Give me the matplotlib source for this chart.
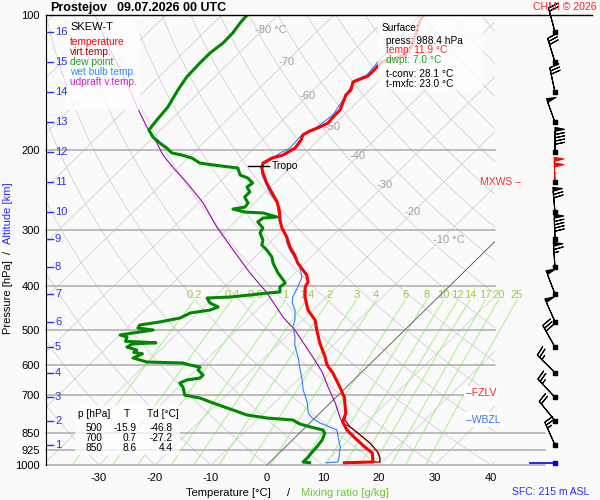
import numpy as np
import matplotlib
matplotlib.use('Agg')
import matplotlib.pyplot as plt
from matplotlib.transforms import Affine2D, blended_transform_factory
from matplotlib.patches import Rectangle

plt.rcParams['font.family'] = ['Liberation Sans', 'DejaVu Sans']
plt.rcParams['axes.unicode_minus'] = False

# sounding, surface upwards (hPa, degC)
temp_p = [988.4, 984.8, 969.8, 940.4, 912.0, 871.0, 836.0, 802.8, 766.6, 706.0,
          671.0, 624.4, 599.4, 575.4, 535.6, 501.2, 476.4, 452.6, 423.4, 402.3,
          392.1, 378.3, 355.8, 341.5, 327.8, 311.4, 297.4, 285.5, 274.1, 260.3,
          248.7, 236.3, 224.4, 218.8, 213.3, 207.9, 204.8, 197.6, 189.6, 184.8,
          181.1, 177.4, 173.8, 166.8, 162.6, 150.6, 146.8, 140.9, 136.6, 133.8,
          127.2, 122.7, 116.6, 108.0, 102.6, 100.0]
temp_t = [13.4, 18.4, 17.8, 16.6, 14.2, 10.8, 7.9, 5.7, 4.6, 1.4,
          -1.2, -5.0, -7.5, -9.3, -12.8, -15.7, -17.8, -20.9, -23.8, -25.6,
          -26.0, -27.5, -31.3, -33.3, -35.6, -38.0, -40.5, -42.3, -43.8, -46.1,
          -48.6, -51.4, -53.9, -55.0, -55.7, -55.0, -53.6, -52.7, -53.1, -53.7,
          -53.2, -52.1, -51.4, -51.6, -51.6, -53.3, -53.3, -54.4, -52.8, -52.8,
          -52.9, -50.0, -50.6, -52.4, -53.7, -53.9]

virt_p = [988.4, 984.8, 964.8, 935.7, 893.9, 849.2, 823.0, 794.3, 766.6, 706.0]
virt_t = [14.7, 19.6, 18.9, 17.4, 14.4, 10.4, 7.9, 5.7, 4.6, 1.5]

dewp_p = [988.4, 984.8, 959.9, 935.7, 912.0, 880.0, 849.2, 836.0, 823.0, 810.7,
          794.3, 786.2, 774.2, 754.7, 728.2, 709.7, 699.5, 671.0, 657.5, 647.4,
          640.8, 631.0, 615.1, 605.9, 599.4, 593.4, 590.4, 578.4, 566.0, 562.0,
          555.3, 546.8, 538.4, 535.0, 531.0, 519.5, 514.2, 509.0, 501.2, 496.1,
          488.5, 481.0, 471.3, 459.4, 452.6, 445.5, 436.5, 425.5, 423.4, 419.0,
          414.8, 412.7, 402.3, 394.1, 388.1, 374.4, 355.8, 345.0, 332.8, 324.4,
          316.2, 305.1, 297.4, 288.4, 282.6, 281.1, 275.4, 274.1, 269.9, 267.2,
          261.7, 253.8, 247.3, 241.1, 236.3, 230.3, 226.8, 218.8, 217.7, 215.4,
          213.3, 207.9, 204.8, 202.6, 197.6, 192.5, 186.7, 180.1, 171.1, 160.1,
          146.8, 137.3, 127.8, 121.4, 115.4, 109.6, 104.2, 100.0]
dewp_t = [7.2, 5.9, 5.9, 5.7, 5.6, 5.3, 4.5, 3.6, 0.8, -1.6,
          -3.6, -8.6, -12.7, -16.1, -20.9, -24.2, -27.4, -29.2, -30.5, -29.8,
          -27.8, -27.8, -29.6, -29.8, -32.0, -33.6, -40.2, -43.4, -42.5, -44.3,
          -44.2, -46.5, -46.1, -42.1, -47.8, -48.3, -49.9, -48.0, -44.9, -48.0,
          -48.2, -45.2, -42.3, -41.4, -38.4, -37.5, -39.7, -41.1, -37.2, -34.0,
          -31.3, -29.2, -30.1, -29.9, -30.8, -33.0, -35.7, -37.0, -39.2, -41.0,
          -41.7, -43.5, -43.9, -45.9, -45.7, -43.4, -46.6, -50.0, -52.7, -50.9,
          -51.1, -52.8, -52.8, -54.2, -53.9, -55.7, -57.6, -59.3, -60.9, -64.3,
          -67.0, -69.3, -71.6, -73.8, -75.6, -77.8, -80.1, -82.1, -82.5, -82.9,
          -84.2, -85.0, -85.2, -85.2, -84.7, -84.8, -85.3, -85.5]

wetb_p = [988.4, 984.8, 959.9, 912.0, 862.2, 836.0, 823.0, 806.6, 786.2, 766.6,
          724.4, 681.3, 647.4, 605.9, 578.4, 541.2, 519.5, 493.5, 476.4, 452.6,
          436.5, 423.4, 402.3, 382.1, 363.1, 353.9, 332.8, 321.1, 305.1, 289.9,
          275.4, 261.7, 248.7, 226.8, 216.6, 202.6, 197.6, 184.8, 177.4, 166.8,
          154.5, 139.5, 136.0, 127.2, 100.0]
wetb_t = [10.2, 12.1, 11.4, 9.8, 7.4, 6.1, 4.3, 1.8, -0.5, -2.1,
          -4.3, -7.2, -9.2, -12.0, -13.9, -16.9, -18.3, -20.5, -21.4, -23.2,
          -25.0, -26.0, -26.9, -28.0, -30.2, -31.6, -35.1, -36.9, -39.0, -41.8,
          -43.9, -45.9, -49.0, -53.7, -55.5, -54.5, -53.6, -53.9, -52.6, -52.0,
          -52.9, -54.4, -53.2, -53.6, -54.6]

updr_p = [984.8, 964.8, 935.7, 893.9, 849.2, 827.7, 806.6, 786.2, 728.2, 671.0,
          621.3, 575.4, 541.2, 501.2, 469.0, 414.8, 374.4, 332.8, 295.9, 261.7,
          236.3, 217.7, 204.8, 192.5, 177.4, 160.1, 141.6, 119.6, 100.0]
updr_t = [19.6, 18.9, 17.4, 14.4, 10.4, 8.4, 5.9, 4.5, 0.9, -3.3,
          -7.1, -11.5, -15.1, -19.6, -24.1, -31.3, -38.0, -45.2, -52.3, -59.1,
          -65.6, -71.1, -75.0, -78.3, -83.0, -88.4, -94.6, -103.6, -112.7]

# altitude marks and winds at each km
alt_km = [16, 15, 14, 13, 12, 11, 10, 9, 8, 7, 6, 5, 4, 3, 2, 1]
alt_p = [109.2, 127.4, 148.5, 173.1, 201.9, 235.4, 274.4, 315.1,
         363.7, 416.9, 480.4, 547.5, 623.6, 707.3, 797.5, 902.9]
wind_dir = [345, 343, 348, 340, 360, 358, 355, 358, 356, 339, 336, 331, 315, 317, 321, 336]
wind_kt = [20, 30, 30, 50, 90, 100, 70, 90, 65, 50, 50, 30, 25, 25, 20, 25]

press_ticks = [100, 200, 300, 400, 500, 600, 700, 850, 925, 1000]
temp_ticks = [-30, -20, -10, 0, 10, 20, 30, 40]
iso_lab_t = [-80, -70, -60, -50, -40, -30, -20, -10]
iso_lab_p = [108, 127, 151, 177, 206, 239, 274, 316]
mix_w = [0.2, 0.4, 0.6, 1, 1.4, 2, 3, 4, 6, 8, 10, 12, 14, 17, 20, 25]
mix_lab = ['0.2', '0.4', '0.6', '1', '1.4', '2', '3', '4', '6', '8',
           '10', '12', '14', '17', '20', '25']

tab_p = [500, 700, 850]
tab_t = [-15.9, 0.7, 8.6]
tab_td = [-46.8, -27.2, 4.4]

sfc_p = 988.4
tropo_p, tropo_t = 216.6, -55.4
fzlv_p, wbzl_p, mxws_p = 691.8, 792.3, 235.4

BG = '#fafafa'
GRID = '#d2d2d2'
BLUE = '#2b2bff'
MIXC = '#a6f088'

W, H = 600, 500


def fx(px):
    return px / W


def fy(py):
    return 1 - py / H


fig = plt.figure(figsize=(6, 5), dpi=100, facecolor=BG)
ax = fig.add_axes([fx(46), fy(465), 449 / W, 450 / H], facecolor=BG)
ax.set_yscale('log')
ax.set_xlim(-39.46, 40.71)
ax.set_ylim(1000, 100)

# skew-T: shear in axes space so isotherms lean to the right
skew = ax.transScale + ax.transLimits + Affine2D().skew_deg(45.63, 0) + ax.transAxes
blend = blended_transform_factory(ax.transAxes, ax.transData)

# background lines
for t in range(-130, 50, 10):
    ax.plot([t, t], [1000, 100], transform=skew, color=GRID, lw=0.6, zorder=1)
p_ad = np.logspace(3, 2, 60)
for th in range(-40, 210, 10):
    ax.plot((th + 273.15) * (p_ad / 1000) ** 0.286 - 273.15, p_ad,
            transform=skew, color=GRID, lw=0.6, zorder=1)
p_mr = np.linspace(1000, 430, 30)
for w, lab in zip(mix_w, mix_lab):
    e = w * p_mr / (622 + w)
    lg = np.log(e / 6.112)
    t = 243.5 * lg / (17.67 - lg)
    ax.plot(t, p_mr, transform=skew, color=MIXC, lw=0.7, zorder=1.2, clip_on=False)
    ax.annotate(lab, (t[-1], p_mr[-1]), xycoords=skew, xytext=(0, 4),
                textcoords='offset points', ha='center', va='center',
                color='#9acd44', fontsize=8, zorder=2)
ax.plot([0, 0], [1000, 100], transform=skew, color='#606060', lw=0.6, zorder=2)

for t, p in zip(iso_lab_t, iso_lab_p):
    s = f'{t} °C' if t in (-80, -10) else str(t)
    ax.annotate(s, (t, p), xycoords=skew, xytext=(-5.8, 0), textcoords='offset points',
                ha='left', va='center', color='#a0a0a0', fontsize=8, zorder=2)

for p in press_ticks[1:]:
    ext = 1.111 if p >= 850 else 1.0
    ax.axhline(p, xmax=ext, color='#ababab', lw=1.1, zorder=1.5, clip_on=False)
ax.axhline(100, xmax=1.216, color='k', lw=1, zorder=8, clip_on=False)

# profiles
ax.plot(updr_t, updr_p, transform=skew, color='#a000b0', lw=0.8, zorder=3)
ax.plot(wetb_t, wetb_p, transform=skew, color='#2a7fff', lw=0.8, zorder=3.5)
ax.plot(virt_t, virt_p, transform=skew, color='#8b0000', lw=0.9, zorder=4)
ax.plot(temp_t, temp_p, transform=skew, color='#ff0000', lw=2.2, zorder=5)
ax.plot(dewp_t, dewp_p, transform=skew, color='#008800', lw=2.2, zorder=5)

# tropopause
ax.plot([tropo_t - 2.4, tropo_t + 1.4], [tropo_p, tropo_p], transform=skew,
        color='k', lw=1, zorder=6)
ax.text(tropo_t + 1.8, tropo_p, 'Tropo', transform=skew, va='center',
        fontsize=7.5, zorder=6)

# axes
for side in ['top', 'right', 'bottom']:
    ax.spines[side].set_visible(False)
ax.spines['left'].set_color('k')
ax.set_yticks(press_ticks)
ax.set_yticklabels([str(p) for p in press_ticks])
ax.yaxis.set_minor_locator(plt.NullLocator())
ax.set_xticks(temp_ticks)
ax.set_xticklabels([str(t) for t in temp_ticks])
ax.tick_params(axis='y', length=0, pad=4.5, labelsize=8)
ax.tick_params(axis='x', length=0, pad=6, labelsize=8)

# altitude scale
for h, p in zip(alt_km, alt_p):
    ax.plot([0.002, 0.0156], [p, p], transform=blend, color=BLUE, lw=1, zorder=6)
    ax.text(0.02, p, str(h), transform=blend, color=BLUE, fontsize=8,
            va='center', ha='left', zorder=6)

# wind barbs
bx = (555 - 46) / 449
d = np.radians(wind_dir)
spd = np.array(wind_kt, dtype=float)
u = -spd * np.sin(d)
v = -spd * np.cos(d)
cols = ['#ff0000' if p == mxws_p else 'k' for p in alt_p]
ax.barbs([bx] * len(alt_p), alt_p, u, v, transform=blend, length=6, lw=0.8,
         barbcolor=cols, flagcolor=cols, clip_on=False, zorder=7,
         sizes=dict(height=0.38, width=0.16, spacing=0.13, emptybarb=0.05))
ax.scatter([bx] * len(alt_p), alt_p, transform=blend, marker='s', s=5,
           color='k', clip_on=False, zorder=8)
ax.plot([(530 - 46) / 449, bx], [sfc_p, sfc_p], transform=blend, color='#0000ee',
        lw=1.2, clip_on=False, zorder=7)
ax.scatter([bx], [sfc_p], transform=blend, marker='s', s=6, color='#0000ee',
           clip_on=False, zorder=8)

# level marks
ax.text(1.058, mxws_p, 'MXWS \u2013', transform=blend, ha='right', va='center',
        color='#ff3030', fontsize=7.5, zorder=7)
ax.text(0.9354, fzlv_p, '\u2013FZLV', transform=blend, ha='left', va='center',
        color='#ff2020', fontsize=7.5, zorder=7,
        bbox=dict(facecolor='white', edgecolor='none', pad=1.5))
ax.text(0.9354, wbzl_p, '\u2013WBZL', transform=blend, ha='left', va='center',
        color='#3070ff', fontsize=7.5, zorder=7,
        bbox=dict(facecolor='white', edgecolor='none', pad=1.5))

# translucent info boxes
for x0, y0, x1, y1 in [(67, 15, 140, 110), (378, 15, 483, 90), (75, 405, 180, 455)]:
    ax.add_patch(Rectangle((fx(x0), fy(y1)), (x1 - x0) / W, (y1 - y0) / H,
                           transform=fig.transFigure, facecolor='white',
                           edgecolor='none', alpha=0.78, clip_on=False, zorder=6.5))

# legend
fig.text(fx(70), fy(26.7), 'SKEW-T', fontsize=8, va='center')
legend = [('temperature', '#ff0000'), ('virt.temp.', '#aa0000'),
          ('dew point', '#22a022'), ('wet bulb temp.', '#3388ff'),
          ('udpraft v.temp.', '#cc22cc')]
for i, (s, c) in enumerate(legend):
    fig.text(fx(70), fy(42.3 + 9.85 * i), s, color=c, fontsize=7.3, va='center')

# surface info
fig.text(fx(382), fy(27.7), 'Surface:', fontsize=7.3, va='center')
fig.text(fx(386), fy(40.7), f'press: {sfc_p} hPa', fontsize=7.3, va='center')
fig.text(fx(386), fy(50.3), 'temp: 11.9 °C', color='#ff2020', fontsize=7.3, va='center')
fig.text(fx(386), fy(60.2), 'dwpt: 7.0 °C', color='#22a022', fontsize=7.3, va='center')
fig.text(fx(386), fy(74), 't-conv: 28.1 °C', fontsize=7.3, va='center')
fig.text(fx(386), fy(84.3), 't-mxfc: 23.0 °C', fontsize=7.3, va='center')

# table
fig.text(fx(78), fy(414), 'p [hPa]', fontsize=7.3, va='center')
fig.text(fx(127), fy(414), 'T', fontsize=7.3, va='center', ha='center')
fig.text(fx(147), fy(414), 'Td [°C]', fontsize=7.3, va='center')
for i, (p, t, td) in enumerate(zip(tab_p, tab_t, tab_td)):
    yy = fy(428.3 + 10 * i)
    fig.text(fx(102), yy, str(p), fontsize=7.3, va='center', ha='right')
    fig.text(fx(137), yy, f'{t:.1f}', fontsize=7.3, va='center', ha='right')
    fig.text(fx(173), yy, f'{td:.1f}', fontsize=7.3, va='center', ha='right')

# titles and axis captions
fig.text(fx(50), fy(8), 'Prostejov', fontsize=9, fontweight='bold', va='center')
fig.text(fx(117), fy(8), '09.07.2026 00 UTC', fontsize=9, fontweight='bold', va='center')
fig.text(fx(597), fy(7), 'CHMI © 2026', color='#ff2020', fontsize=7.6,
         va='center', ha='right')
fig.text(fx(8), fy(297.5), 'Pressure [hPa]', rotation=90, fontsize=8,
         va='center', ha='center')
fig.text(fx(8), fy(252), '/', rotation=90, fontsize=8, va='center', ha='center')
fig.text(fx(8), fy(213), 'Altitude [km]', rotation=90, fontsize=8, color=BLUE,
         va='center', ha='center')
fig.text(fx(228), fy(493), 'Temperature [°C]', fontsize=8, va='center', ha='center')
fig.text(fx(289), fy(493), '/', fontsize=8, va='center', ha='center')
fig.text(fx(344.5), fy(493), 'Mixing ratio [g/kg]', fontsize=8, color='#66cc33',
         va='center', ha='center')
fig.text(fx(551), fy(492), 'SFC: 215 m ASL', fontsize=7.5, color=BLUE,
         va='center', ha='center')

fig.savefig('out.png', dpi=100, facecolor=BG)
